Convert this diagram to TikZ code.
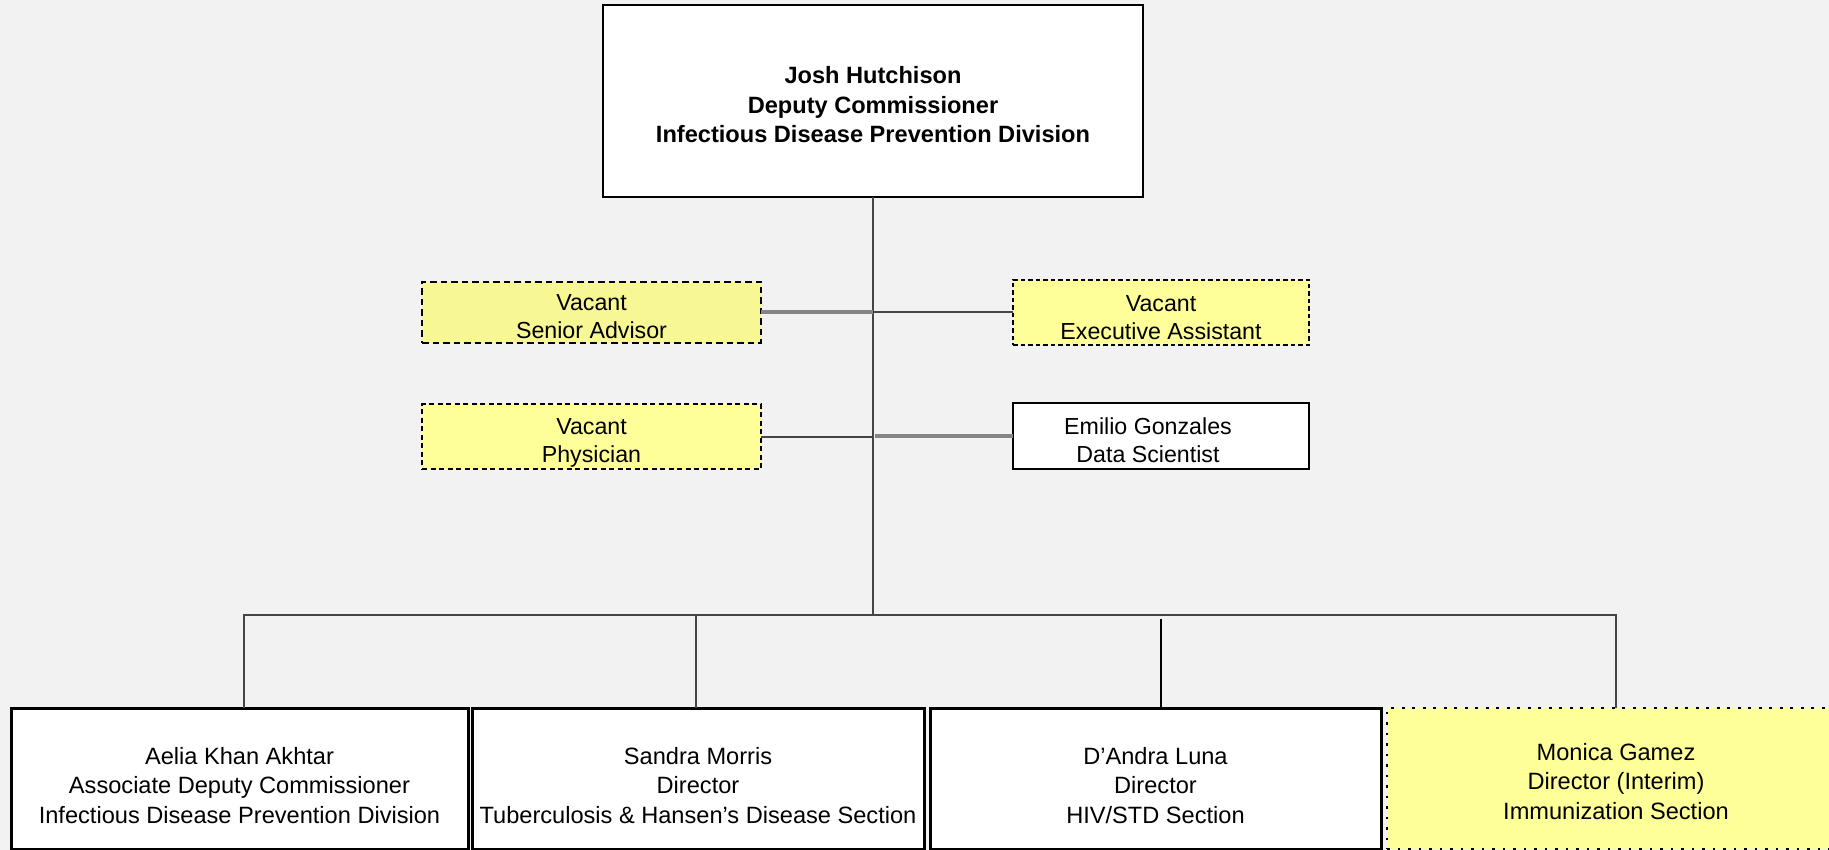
\documentclass[tikz,border=0pt]{standalone}
\usepackage{fontspec}
\setmainfont{Liberation Sans}
\definecolor{pagebg}{HTML}{F2F2F2}
\definecolor{vacantpale}{HTML}{F7F794}
\definecolor{vacantfill}{HTML}{FFFF99}
\definecolor{linkgray}{HTML}{858585}
\definecolor{linkdark}{HTML}{454545}

\begin{document}
\begin{tikzpicture}[x=1pt,y=1pt]
        \tikzstyle{every node}+=[inner sep=0pt, outer sep=0pt, align=center, font=\fontsize{23.6}{29.5}\selectfont]
        \tikzstyle{headbox}=[draw=black, line width=2.6, fill=white, minimum width=540, minimum height=192]
        \tikzstyle{vacantbox}=[draw=black, fill=vacantfill, minimum width=339, minimum height=65]
        \tikzstyle{staffbox}=[draw=black, line width=2, fill=white, minimum width=296, minimum height=66]
        \tikzstyle{sectionbox}=[draw=black, line width=3, fill=white, minimum height=141]
        \tikzstyle{interimbox}=[draw=black, line width=2.6, dash pattern=on 2.6 off 7.9, fill=vacantfill, minimum height=141]
        \tikzstyle{smalltext}=[font=\fontsize{23.2}{28}\selectfont]
        \tikzstyle{link}=[linkdark, line width=2]
        \tikzstyle{boldlink}=[linkgray, line width=4]
        % page
        \fill [pagebg] (0,0) rectangle (1829,-850);
        \clip (0,0) rectangle (1829,-850);
        % boxes
        \node [headbox] (head) at (873,-101) {};
        \node (headText) at ([yshift=-4pt]head.center) {\bfseries Josh Hutchison\\\bfseries Deputy Commissioner\\\bfseries Infectious Disease Prevention Division};
        \node [vacantbox, fill=vacantpale, line width=2, dash pattern=on 6.5 off 4, minimum height=61] (adv) at (591.5,-312.5) {};
        \node [smalltext] (advText) at ([yshift=-4.5pt]adv.center) {Vacant\\Senior Advisor};
        \node [vacantbox, line width=1.3, dash pattern=on 4.5 off 3, minimum width=296] (assist) at (1161,-312.5) {};
        \node [smalltext] (assistText) at ([yshift=-5pt]assist.center) {Vacant\\Executive Assistant};
        \node [vacantbox, line width=1.6, dash pattern=on 5 off 3.5] (phys) at (591.5,-436.5) {};
        \node [smalltext] (physText) at ([yshift=-6pt]phys.center) {Vacant\\Physician};
        \node [staffbox] (data) at (1161,-436) {};
        \node [smalltext] (dataText) at ([xshift=-13pt,yshift=-4pt]data.center) {Emilio Gonzales\\Data Scientist};
        \node [sectionbox, minimum width=457] (assoc) at (239.5,-778.5) {};
        \node (assocText) at ([yshift=-7pt]assoc.center) {Aelia Khan Akhtar\\Associate Deputy Commissioner\\Infectious Disease Prevention Division};
        \node [sectionbox, minimum width=452] (tb) at (698,-778.5) {};
        \node (tbText) at ([yshift=-7pt]tb.center) {Sandra Morris\\Director\\Tuberculosis \& Hansen’s Disease Section};
        \node [sectionbox, minimum width=451] (hiv) at (1155.5,-778.5) {};
        \node (hivText) at ([yshift=-7pt]hiv.center) {D’Andra Luna\\Director\\HIV/STD Section};
        \node [interimbox, minimum width=458] (immun) at (1616,-778.5) {};
        \node (immunText) at ([yshift=-3pt]immun.center) {Monica Gamez\\Director (Interim)\\Immunization Section};
        % lines
        \coordinate (busL) at (244,-615);
        \coordinate (busR) at (1616,-615);
        \draw [link] (head.south) -- (head.south |- busL);
        \draw [boldlink] (adv.east) -- (adv.east -| head.south);
        \draw [link] (assist.west) -- (assist.west -| head.south);
        \draw [link] (phys.east) -- (phys.east -| head.south);
        \draw [boldlink] (data.west) -- ([xshift=2pt]data.west -| head.south);
        \draw [link] ([xshift=4.5pt]assoc.north) -- (busL) -- (busR) -- (immun.north);
        \draw [link] ([xshift=-2pt]tb.north) -- ([xshift=-2pt]tb.north |- busL);
        \draw [black, line width=1.3] ([xshift=5.5pt]hiv.north) -- ++(0,89);
\end{tikzpicture}
\end{document}
